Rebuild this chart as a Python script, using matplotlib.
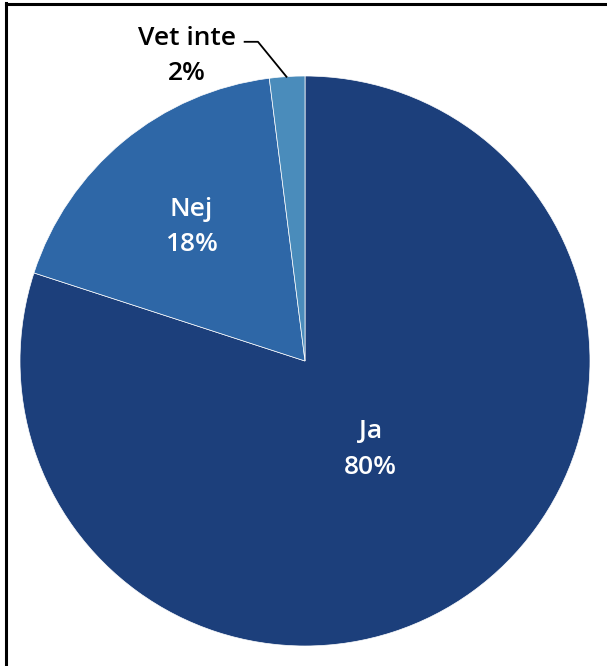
import matplotlib
matplotlib.use('Agg')
import matplotlib.pyplot as plt
from matplotlib.lines import Line2D

labels = ['Ja', 'Nej', 'Vet inte']
values = [80, 18, 2]
colors = ['#1c3f7b', '#2e67a7', '#4a8cbb']

plt.rcParams['font.family'] = ['Open Sans', 'DejaVu Sans']

fig = plt.figure(figsize=(6.07, 6.66), dpi=100)
ax = fig.add_axes([0, 0, 1, 1])

wedges, _ = ax.pie(values, colors=colors, startangle=90, counterclock=False,
                   radius=1.0, wedgeprops=dict(edgecolor='white', linewidth=0.5))

txt = dict(ha='center', va='center', fontsize=19, fontweight='semibold',
           linespacing=1.55)

# inside labels
ax.text(0.23, -0.31, 'Ja\n80%', color='white', **txt)
ax.text(-0.40, 0.47, 'Nej\n18%', color='white', **txt)

# outside label with leader line
ax.text(-0.415, 1.07, 'Vet inte\n2%', color='black', **txt)
ax.plot([-0.215, -0.165, -0.063], [1.12, 1.12, 0.995], color='black', lw=1.3,
        solid_capstyle='butt')

ax.set_xlim(-305 / 285, (607 - 305) / 285)
ax.set_ylim(-(666 - 361) / 285, 361 / 285)
ax.set_aspect('auto')
ax.axis('off')

# frame on left and top
fig.add_artist(Line2D([6 / 607, 6 / 607], [0, 1 - 3 / 666], color='black', lw=2.2,
                      transform=fig.transFigure))
fig.add_artist(Line2D([6 / 607, 1], [1 - 4 / 666, 1 - 4 / 666], color='black', lw=2.2,
                      transform=fig.transFigure))

fig.savefig('out.png', dpi=100)
